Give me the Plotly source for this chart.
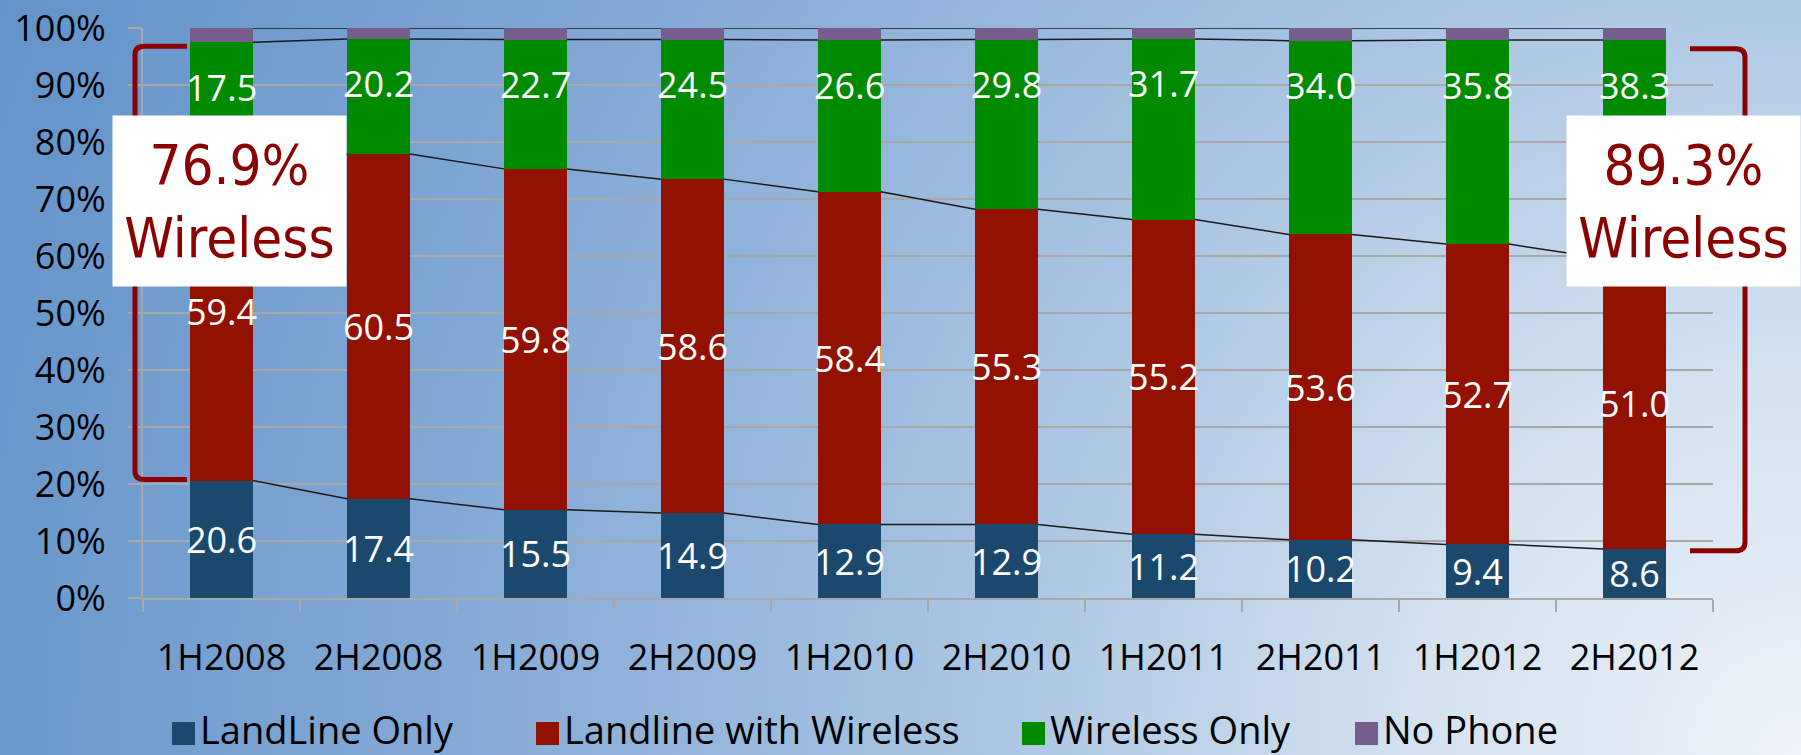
import base64
import numpy as np
import plotly.graph_objects as go

# ---------------- data ----------------
categories = ["1H2008", "2H2008", "1H2009", "2H2009", "1H2010",
              "2H2010", "1H2011", "2H2011", "1H2012", "2H2012"]
landline_only = [20.6, 17.4, 15.5, 14.9, 12.9, 12.9, 11.2, 10.2, 9.4, 8.6]
landline_with_wireless = [59.4, 60.5, 59.8, 58.6, 58.4, 55.3, 55.2, 53.6, 52.7, 51.0]
wireless_only = [17.5, 20.2, 22.7, 24.5, 26.6, 29.8, 31.7, 34.0, 35.8, 38.3]
no_phone = [2.5, 1.9, 2.0, 2.0, 2.1, 2.0, 1.9, 2.2, 2.1, 2.1]
series_names = ["LandLine Only", "Landline with Wireless", "Wireless Only", "No Phone"]
y_tick_values = [0, 10, 20, 30, 40, 50, 60, 70, 80, 90, 100]
y_tick_labels = ["0%", "10%", "20%", "30%", "40%", "50%", "60%", "70%", "80%", "90%", "100%"]
callout_left = "76.9%"
callout_right = "89.3%"
callout_word = "Wireless"

# ---------------- styling / geometry ----------------
W, H = 1801, 755
L, R, T, B = 143, 1713, 28, 598
PW, PH = R - L, B - T
colors = ["#1B496E", "#921100", "#008A00", "#765D8C"]
grey = "#a8a8a8"
dark_red = "#8B0000"
FONT = "Open Sans"
NARROW = "Liberation Sans Narrow, DejaVu Sans Condensed, Arial Narrow, sans-serif"
BAR_W = 0.4


def px(x):
    return (x - L) / PW


def py(y):
    return 1 - (y - T) / PH


series = [landline_only, landline_with_wireless, wireless_only, no_phone]
xpos = np.arange(len(categories))
cum = np.cumsum(np.array(series), axis=0)

fig = go.Figure()

# stacked bars
for k, (name, vals, col) in enumerate(zip(series_names, series, colors)):
    show_text = k < 2
    fig.add_trace(go.Bar(
        x=xpos, y=vals, width=BAR_W, name=name, showlegend=False,
        marker=dict(color=col, line=dict(width=0)),
        text=[f"{v:.1f}" for v in vals] if show_text else None,
        textposition="inside" if show_text else "none",
        insidetextanchor="middle", textangle=0, constraintext="none",
        textfont=dict(family=FONT, size=36, color="white"),
        hoverinfo="skip",
    ))

# series lines connecting the tops of each segment between bars
for k in range(len(series)):
    xs, ys = [], []
    for i in range(len(categories) - 1):
        xs += [xpos[i] + BAR_W / 2, xpos[i + 1] - BAR_W / 2, None]
        ys += [cum[k][i], cum[k][i + 1], None]
    fig.add_trace(go.Scatter(x=xs, y=ys, mode="lines", showlegend=False,
                             line=dict(color="#1a1a1a", width=1.5), hoverinfo="skip"))

annotations = []
# Wireless Only data labels (placed near the top of the segment)
for i, v in enumerate(wireless_only):
    annotations.append(dict(x=xpos[i], y=cum[2][i], xref="x", yref="y", yshift=-45,
                            text=f"{v:.1f}", showarrow=False, yanchor="middle",
                            font=dict(family=FONT, size=36, color="white")))

# call-out boxes
for cx, txt in [(229.5, callout_left), (1683, callout_right)]:
    annotations.append(dict(x=px(cx), y=py(201), xref="paper", yref="paper",
                            text=f"{txt}<br>{callout_word}", showarrow=False,
                            xanchor="center", yanchor="middle", align="center", valign="middle",
                            width=231, height=168, borderpad=1, bgcolor="white",
                            font=dict(family=NARROW, size=56, color=dark_red)))

shapes = []
# brackets
def bracket(xv, xe, yt, yb, rx, ry):
    return (f"M {xe},{yt} L {xv + rx},{yt} Q {xv},{yt} {xv},{yt - ry} "
            f"L {xv},{yb + ry} Q {xv},{yb} {xv + rx},{yb} L {xe},{yb}")

shapes.append(dict(type="path", xref="paper", yref="y", layer="above",
                   path=bracket(px(135), px(187), 96.8, 20.8, 0.006, 1.5),
                   line=dict(color=dark_red, width=5)))
shapes.append(dict(type="path", xref="paper", yref="y", layer="above",
                   path=bracket(px(1745), px(1690), 96.4, 8.3, -0.006, 1.5),
                   line=dict(color=dark_red, width=5)))

# manual legend
legend_sq_x = [172, 536, 1022, 1355]
for name, col, sx in zip(series_names, colors, legend_sq_x):
    shapes.append(dict(type="rect", xref="paper", yref="paper",
                       x0=px(sx), x1=px(sx + 23), y0=py(745), y1=py(722),
                       fillcolor=col, line=dict(width=0)))
    annotations.append(dict(x=px(sx + 26), y=py(729), xref="paper", yref="paper",
                            text=name, showarrow=False, xanchor="left", yanchor="middle",
                            font=dict(family=FONT, size=38, color="black")))

# background gradient
svg = ('<svg xmlns="http://www.w3.org/2000/svg" width="1801" height="755" viewBox="0 0 1801 755" '
       'preserveAspectRatio="none"><defs><radialGradient id="g" gradientUnits="userSpaceOnUse" '
       'cx="1801" cy="755" r="1950">'
       '<stop offset="0" stop-color="#eef3f9"/><stop offset="0.2" stop-color="#d3e1f0"/>'
       '<stop offset="0.42" stop-color="#a9c5e2"/><stop offset="0.7" stop-color="#83a9d5"/>'
       '<stop offset="1" stop-color="#6393c9"/></radialGradient></defs>'
       '<rect width="1801" height="755" fill="url(#g)"/></svg>')
src = "data:image/svg+xml;base64," + base64.b64encode(svg.encode()).decode()

fig.update_layout(
    width=W, height=H,
    margin=dict(l=L, r=W - R, t=T, b=H - B, pad=0, autoexpand=False),
    barmode="stack",
    paper_bgcolor="rgba(0,0,0,0)", plot_bgcolor="rgba(0,0,0,0)",
    showlegend=False,
    images=[dict(source=src, xref="paper", yref="paper", x=-L / PW, y=1 + T / PH,
                 sizex=W / PW, sizey=H / PH, xanchor="left", yanchor="top",
                 sizing="stretch", layer="below")],
    shapes=shapes,
    annotations=annotations,
    xaxis=dict(range=[-0.5, len(categories) - 0.5], tickmode="array",
               tickvals=list(xpos), ticktext=categories, ticks="",
               showline=True, linecolor=grey, linewidth=2, showgrid=False, zeroline=False,
               minor=dict(tickmode="array", tickvals=[i - 0.5 for i in range(len(categories) + 1)],
                          ticks="outside", ticklen=12, tickwidth=2, tickcolor=grey, showgrid=False),
               tickfont=dict(family=FONT, size=36, color="black"),
               automargin=False,
               ticklabelstandoff=27, fixedrange=True),
    yaxis=dict(range=[0, 100.02], tickmode="array", tickvals=y_tick_values, ticktext=y_tick_labels,
               ticks="outside", ticklen=13, tickwidth=2, tickcolor=grey,
               showgrid=True, gridcolor=grey, gridwidth=2,
               showline=True, linecolor=grey, linewidth=2, zeroline=False,
               tickfont=dict(family=FONT, size=36, color="black"),
               ticklabeloverflow="allow", automargin=False,
               ticklabelstandoff=15, fixedrange=True),
)

fig.write_html("out.html")
